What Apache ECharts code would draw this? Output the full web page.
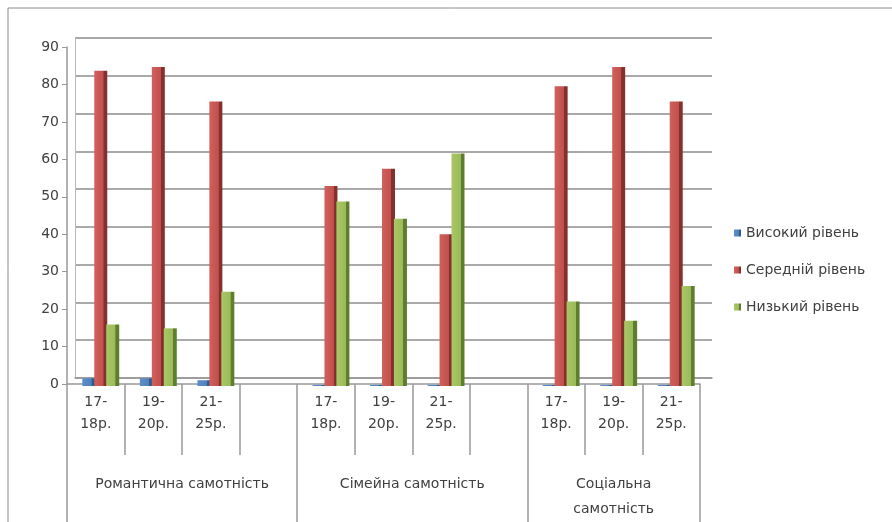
<!DOCTYPE html>
<html>
<head>
<meta charset="utf-8">
<script src="https://cdn.jsdelivr.net/npm/echarts@6/dist/echarts.min.js"></script>
<style>
  html, body { margin: 0; padding: 0; background: #fff; }
  #chart { width: 892px; height: 522px; }
</style>
</head>
<body>
<div id="chart"></div>
<script>
// age groups (two-line labels), empty slots separate the three blocks
const ageLabels = ['17-\n18р.', '19-\n20р.', '21-\n25р.', '', '17-\n18р.', '19-\n20р.', '21-\n25р.', '', '17-\n18р.', '19-\n20р.', '21-\n25р.'];
const groupNames = ['Романтична самотність', 'Сімейна самотність', 'Соціальна\nсамотність'];
const seriesNames = ['Високий рівень', 'Середній рівень', 'Низький рівень'];

const highLevel = [2, 2, 1.5, null, 0.3, 0.3, 0.3, null, 0.3, 0.3, 0.3];
const midLevel = [82, 83, 74, null, 52, 56.5, 39.5, null, 78, 83, 74];
const lowLevel = [16, 15, 24.5, null, 48, 43.5, 60.5, null, 22, 17, 26];

const yTicks = { min: 0, max: 90, step: 10 };

// second level axis: 23 half-slot points, group names sit in the middle of each block
const groupPos = [4, 12, 19];
const groupEdges = [0, 8, 16, 22];
const groupAxis = [];
for (let i = 0; i <= 22; i++) {
  const k = groupPos.indexOf(i);
  groupAxis.push(k >= 0 ? groupNames[k] : ' ' + i);
}

const font = 'DejaVu Sans';
const txt = '#404040';

function face(light, main, dark) {
  return new echarts.graphic.LinearGradient(0, 0, 1, 0, [
    { offset: 0, color: light },
    { offset: 0.7, color: main },
    { offset: 0.72, color: dark },
    { offset: 1, color: dark }
  ]);
}

const chart = echarts.init(document.getElementById('chart'));
const option = {
  backgroundColor: '#fff',
  animation: false,
  textStyle: { fontFamily: font },
  graphic: [{
    type: 'rect',
    shape: { x: 8, y: 8, width: 900, height: 600 },
    style: { fill: 'none', stroke: '#8a8a8a', lineWidth: 1 },
    silent: true
  }],
  legend: {
    orient: 'vertical',
    left: 729,
    top: 221,
    itemWidth: 7,
    itemHeight: 7,
    itemGap: 23,
    icon: 'rect',
    data: seriesNames,
    textStyle: { fontFamily: font, fontSize: 14, color: txt }
  },
  grid: [
    { left: 67, right: 192, top: 47, bottom: 136 },
    { left: 75, right: 180, top: 38, bottom: 144 },
    // bars: the 3D cap makes each bar reach a little higher than the front scale
    { left: 72, right: 187, top: 40, bottom: 136 }
  ],
  xAxis: [
    {
      type: 'category',
      gridIndex: 0,
      data: ageLabels,
      axisLine: { show: true, lineStyle: { color: '#999', width: 1.5 } },
      axisTick: { show: true, length: 71, lineStyle: { color: '#999', width: 1.5 } },
      axisLabel: { interval: 0, margin: 7, fontSize: 14, lineHeight: 22, color: txt, fontFamily: font }
    },
    {
      type: 'category',
      gridIndex: 0,
      position: 'bottom',
      data: groupAxis,
      boundaryGap: false,
      axisLine: { show: false },
      axisTick: {
        show: true,
        length: 140,
        interval: (i) => groupEdges.indexOf(i) >= 0,
        lineStyle: { color: '#999', width: 1.5 }
      },
      axisLabel: {
        interval: (i) => groupPos.indexOf(i) >= 0,
        margin: 88,
        fontSize: 14,
        lineHeight: 25,
        color: txt,
        fontFamily: font
      }
    },
    {
      type: 'category',
      gridIndex: 1,
      data: ageLabels,
      axisLine: { show: true, lineStyle: { color: '#999', width: 1.5 } },
      axisTick: { show: false },
      axisLabel: { show: false }
    },
    {
      type: 'category',
      gridIndex: 2,
      data: ageLabels,
      show: false
    }
  ],
  yAxis: [
    {
      type: 'value',
      gridIndex: 0,
      min: yTicks.min,
      max: yTicks.max,
      interval: yTicks.step,
      axisLine: { show: true, lineStyle: { color: '#999', width: 1.5 } },
      axisTick: { show: true, length: 5, lineStyle: { color: '#999' } },
      axisLabel: { fontSize: 14, color: txt, margin: 8, fontFamily: font },
      splitLine: { show: false }
    },
    {
      type: 'value',
      gridIndex: 1,
      min: yTicks.min,
      max: yTicks.max,
      interval: yTicks.step,
      axisLine: { show: true, lineStyle: { color: '#bbb', width: 1 } },
      axisTick: { show: false },
      axisLabel: { show: false },
      splitLine: { show: true, lineStyle: { color: '#8c8c8c', width: 1.5 } }
    },
    {
      type: 'value',
      gridIndex: 2,
      min: yTicks.min,
      max: yTicks.max,
      interval: yTicks.step,
      show: false,
      splitLine: { show: false }
    }
  ],
  series: [
    {
      name: seriesNames[0],
      type: 'bar',
      xAxisIndex: 3, yAxisIndex: 2,
      data: highLevel,
      barWidth: 13,
      barGap: '-8%',
      itemStyle: { color: face('#5b8fcc', '#4f81bd', '#2f5c8f') }
    },
    {
      name: seriesNames[1],
      type: 'bar',
      xAxisIndex: 3, yAxisIndex: 2,
      data: midLevel,
      barWidth: 13,
      barGap: '-8%',
      itemStyle: { color: face('#d2605c', '#c0504d', '#84302d') }
    },
    {
      name: seriesNames[2],
      type: 'bar',
      xAxisIndex: 3, yAxisIndex: 2,
      data: lowLevel,
      barWidth: 13,
      barGap: '-8%',
      itemStyle: { color: face('#a8c766', '#9bbb59', '#5f7d2e') }
    }
  ]
};
chart.setOption(option);
</script>
</body>
</html>
